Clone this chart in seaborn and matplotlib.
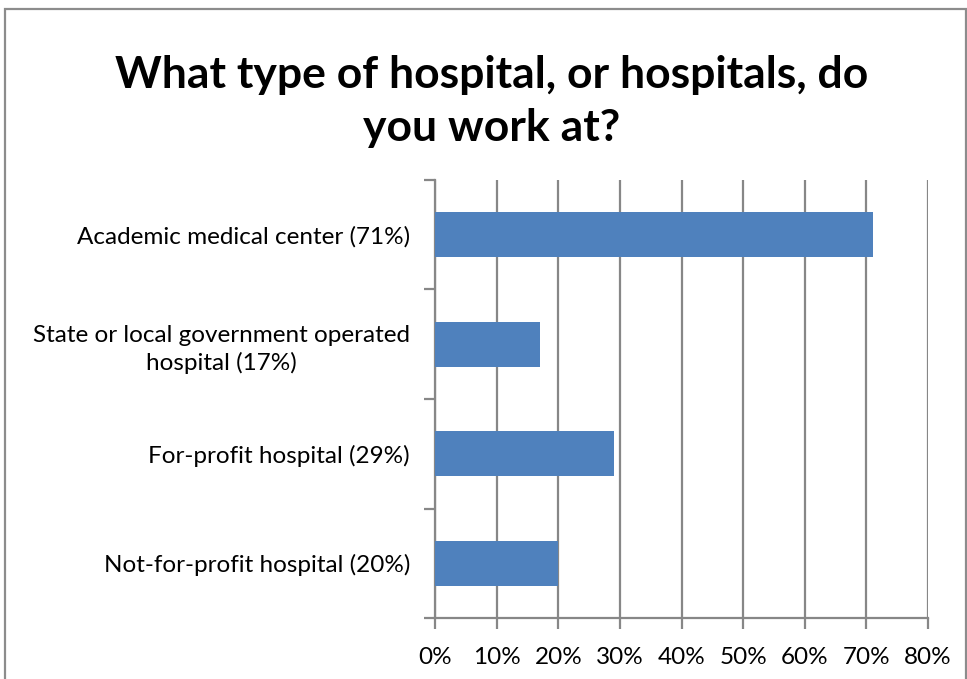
import pandas as pd
import seaborn as sns
import matplotlib.pyplot as plt
from matplotlib.patches import Rectangle
from matplotlib.ticker import PercentFormatter

categories = ['Academic medical center (71%)',
              'State or local government operated\nhospital (17%)',
              'For-profit hospital (29%)',
              'Not-for-profit hospital (20%)']
shares = [71, 17, 29, 20]
xticks = [0, 10, 20, 30, 40, 50, 60, 70, 80]

df = pd.DataFrame({'type': categories, 'share': shares})

sns.set_style('white')
plt.rcParams['font.family'] = ['Lato', 'DejaVu Sans']
plt.rcParams['text.color'] = 'black'
plt.rcParams['xtick.labelcolor'] = 'black'
plt.rcParams['ytick.labelcolor'] = 'black'

fig = plt.figure(figsize=(9.67, 6.79), dpi=100)
ax = fig.add_axes([435/967, 1-618/679, (928-435)/967, (618-180)/679])

sns.barplot(data=df, x='share', y='type', orient='h', color='#4F81BD',
            saturation=1, width=0.41, linewidth=0, ax=ax, zorder=3)

grid = '#878787'
ax.set_xlim(0, 80)
ax.set_xticks(xticks)
ax.xaxis.set_major_formatter(PercentFormatter(decimals=0))
ax.grid(axis='x', color=grid, lw=1.6, zorder=0)
ax.set_axisbelow(True)
ax.set_xlabel('')
ax.set_ylabel('')

ax.set_yticks([-0.5, 0.5, 1.5, 2.5, 3.5], minor=False)
ax.set_yticklabels([])
ax.set_yticks([0, 1, 2, 3], minor=True)
ax.set_yticklabels(categories, minor=True, fontsize=17.5, ha='right', multialignment='center',
                   linespacing=1.35)
ax.set_ylim(3.5, -0.5)
ax.tick_params(axis='y', which='major', length=8, width=1.6, color=grid, left=True)
ax.tick_params(axis='y', which='minor', length=0, pad=18)
ax.tick_params(axis='x', length=8, width=1.6, color=grid, bottom=True, labelsize=17.5, pad=13)
for s in ['top', 'right']:
    ax.spines[s].set_visible(False)
for s in ['left', 'bottom']:
    ax.spines[s].set_color(grid)
    ax.spines[s].set_linewidth(1.6)

fig.text(492/967, 1-75/679, 'What type of hospital, or hospitals, do', ha='center', va='center',
         fontsize=32, fontweight='bold')
fig.text(492/967, 1-128/679, 'you work at?', ha='center', va='center',
         fontsize=32, fontweight='bold')

fig.patches.append(Rectangle((5/967, -0.01), 961/967, 1 - 9/679 + 0.01, transform=fig.transFigure,
                             fill=False, edgecolor='#8c8c8c', lw=1.6))

fig.savefig('out.png', dpi=100)
